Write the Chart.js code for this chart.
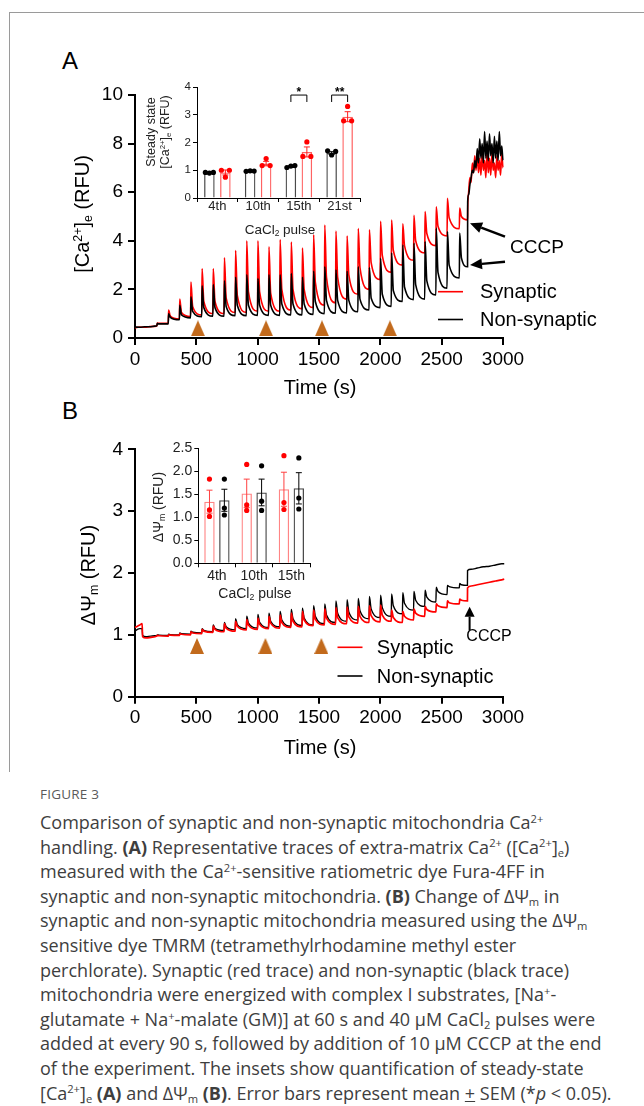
<!DOCTYPE html>
<html>
<head>
<meta charset="utf-8">
<script src="https://cdn.jsdelivr.net/npm/chart.js@4.4.1/dist/chart.umd.min.js"></script>
<style>
html, body { margin: 0; padding: 0; background: #fff; }
body { width: 644px; height: 1106px; position: relative; overflow: hidden;
       font-family: "Liberation Sans", Arial, Helvetica, sans-serif; color: #000; }
canvas { position: absolute; }
.frame-top { position: absolute; left: 9px; top: 12px; width: 640px; height: 0; border-top: 1px solid #9a9a9a; }
.frame-left { position: absolute; left: 9px; top: 12px; width: 0; height: 760px; border-left: 1px solid #9a9a9a; }
.lbl { position: absolute; white-space: nowrap; line-height: 1; transform: translate(-50%, -50%); }
.rot { transform: translate(-50%, -50%) rotate(-90deg); }
.panel { position: absolute; font-size: 24px; line-height: 1; }
.sup { font-size: 0.62em; position: relative; top: -0.55em; }
.sub { font-size: 0.62em; position: relative; top: 0.28em; }
#caption { position: absolute; left: 40px; top: 784px; width: 604px; color: #3e3e3e;
           font-family: "Open Sans", "Noto Sans", sans-serif; }
#caption .figno { font-size: 13.5px; color: #5a5a5a; letter-spacing: 0.2px; height: 26px; line-height: 20px; }
#caption .cl { font-size: 18px; line-height: 24.6px; height: 24.6px; white-space: nowrap; }
#caption b { font-weight: 700; }
</style>
</head>
<body>
<div class="frame-top"></div>
<div class="frame-left"></div>

<div class="panel" style="left:62px; top:49px;">A</div>
<div class="panel" style="left:62px; top:399px;">B</div>

<canvas id="mainA" width="644" height="400" style="left:0; top:0;"></canvas>
<canvas id="mainB" width="644" height="370" style="left:0; top:400px;"></canvas>
<canvas id="insetA" width="260" height="150" style="left:120px; top:70px;"></canvas>
<canvas id="insetB" width="220" height="160" style="left:120px; top:430px;"></canvas>

<!-- axis titles -->
<div class="lbl rot" style="left:82px; top:214px; font-size:20px;">[Ca<span class="sup">2+</span>]<span class="sub">e</span> (RFU)</div>
<div class="lbl" style="left:320px; top:387px; font-size:20px;">Time (s)</div>
<div class="lbl rot" style="left:88px; top:575px; font-size:20px;">ΔΨ<span class="sub">m</span> (RFU)</div>
<div class="lbl" style="left:320px; top:747px; font-size:20px;">Time (s)</div>

<div class="lbl rot" style="left:151px; top:132px; font-size:12.5px; color:#222;">Steady state</div>
<div class="lbl rot" style="left:165px; top:132px; font-size:12.5px; color:#222;">[Ca<span class="sup">2+</span>]<span class="sub">e</span> (RFU)</div>
<div class="lbl" style="left:280px; top:230px; font-size:13.5px; color:#222;">CaCl<span class="sub">2</span> pulse</div>
<div class="lbl rot" style="left:158px; top:507px; font-size:14px; color:#222;">ΔΨ<span class="sub">m</span> (RFU)</div>
<div class="lbl" style="left:255px; top:593px; font-size:14px; color:#222;">CaCl<span class="sub">2</span> pulse</div>

<div id="caption">
  <div class="figno">FIGURE 3</div>
  <div class="cl">Comparison of synaptic and non-synaptic mitochondria Ca<span class="sup">2+</span></div>
  <div class="cl">handling. <b>(A)</b> Representative traces of extra-matrix Ca<span class="sup">2+</span> ([Ca<span class="sup">2+</span>]<span class="sub">e</span>)</div>
  <div class="cl">measured with the Ca<span class="sup">2+</span>-sensitive ratiometric dye Fura-4FF in</div>
  <div class="cl">synaptic and non-synaptic mitochondria. <b>(B)</b> Change of ΔΨ<span class="sub">m</span> in</div>
  <div class="cl">synaptic and non-synaptic mitochondria measured using the ΔΨ<span class="sub">m</span></div>
  <div class="cl">sensitive dye TMRM (tetramethylrhodamine methyl ester</div>
  <div class="cl">perchlorate). Synaptic (red trace) and non-synaptic (black trace)</div>
  <div class="cl">mitochondria were energized with complex I substrates, [Na<span class="sup">+</span>-</div>
  <div class="cl">glutamate + Na<span class="sup">+</span>-malate (GM)] at 60 s and 40 μM CaCl<span class="sub">2</span> pulses were</div>
  <div class="cl">added at every 90 s, followed by addition of 10 μM CCCP at the end</div>
  <div class="cl">of the experiment. The insets show quantification of steady-state</div>
  <div class="cl">[Ca<span class="sup">2+</span>]<span class="sub">e</span> <b>(A)</b> and ΔΨ<span class="sub">m</span> <b>(B)</b>. Error bars represent mean <u>+</u> SEM (*<i>p</i> &lt; 0.05).</div>
</div>

<script>
const FONT = '"Liberation Sans", Arial, Helvetica, sans-serif';
const RED = '#ff0000';
const BLACK = '#000000';

// ---------- CaCl2 pulse times (s), shared by both traces ----------
const pulseTimes = [180, 272, 363, 454, 545, 636, 727, 818, 909, 1000, 1090, 1181, 1272, 1363,
                    1454, 1545, 1636, 1727, 1818, 1909, 2000, 2090, 2181, 2272, 2363, 2454, 2545, 2645];

// ---------- Panel A: extra-matrix Ca2+ (RFU) ----------
const preTimesA = [0, 40, 80, 120, 160, 178];
const synPreA   = [0.42, 0.45, 0.44, 0.47, 0.48, 0.5];
const nonPreA   = [0.45, 0.44, 0.46, 0.46, 0.49, 0.5];

const synPeakA     = [0.62, 1.15, 1.6, 2.3, 2.85, 2.85, 3.3, 3.6, 4.0, 4.0, 3.75, 4.05, 3.95, 3.7,
                      4.25, 4.65, 4.4, 4.2, 4.5, 4.45, 4.8, 4.85, 4.7, 5.05, 5.2, 5.4, 5.75, 5.35];
const synShoulderA = [0.6, 0.9, 1.05, 1.3, 1.5, 1.5, 1.65, 1.75, 1.9, 1.9, 1.85, 2.0, 2.0, 2.0,
                      2.3, 2.5, 2.5, 2.6, 2.9, 3.1, 3.4, 3.6, 3.8, 4.0, 4.3, 4.6, 4.95, 5.0];
const synTroughA   = [0.6, 0.78, 0.88, 0.95, 1.0, 1.0, 1.05, 1.05, 1.1, 1.1, 1.1, 1.15, 1.2, 1.25,
                      1.35, 1.45, 1.6, 1.8, 2.0, 2.4, 2.7, 3.0, 3.2, 3.5, 3.8, 4.2, 4.5, 4.86];

const nonPeakA     = [0.6, 1.0, 1.35, 1.7, 2.15, 2.2, 2.35, 2.5, 2.6, 2.45, 2.6, 2.6, 2.65, 2.5,
                      2.75, 2.93, 2.8, 2.75, 2.93, 2.9, 3.28, 3.5, 3.83, 3.9, 3.97, 4.52, 4.38, 4.32];
const nonShoulderA = [0.58, 0.85, 0.95, 1.1, 1.25, 1.25, 1.3, 1.35, 1.35, 1.35, 1.35, 1.4, 1.4, 1.4,
                      1.5, 1.55, 1.55, 1.55, 1.6, 1.65, 1.8, 1.95, 2.1, 2.2, 2.35, 2.7, 3.0, 3.3];
const nonTroughA   = [0.58, 0.75, 0.83, 0.88, 0.9, 0.9, 0.92, 0.92, 0.93, 0.93, 0.93, 0.95, 0.95, 0.97,
                      1.0, 1.02, 1.03, 1.08, 1.15, 1.25, 1.3, 1.5, 1.58, 1.6, 1.77, 2.05, 2.47, 2.93];

// after CCCP
const postTimesA = [2712, 2720, 2730, 2740, 2750, 2760, 2770, 2780, 2790, 2800, 2810, 2820, 2830,
                    2840, 2850, 2860, 2870, 2880, 2890, 2900, 2910, 2920, 2930, 2940, 2950, 2960,
                    2970, 2980, 2990, 3000, 3010, 3020, 3030];
const synPostA = [5.3, 6.0, 6.6, 6.4, 7.2, 6.8, 7.5, 6.9, 7.6, 6.8, 7.4, 6.7, 7.6, 6.9, 7.3, 6.6, 7.7,
                  6.8, 7.4, 6.7, 7.6, 6.9, 7.2, 6.6, 7.5, 6.9, 7.3, 6.7, 7.6, 7.0, 7.4, 6.8, 7.5];
const nonPostA = [5.6, 5.9, 6.3, 6.6, 6.9, 6.8, 7.3, 7.0, 7.8, 7.2, 8.2, 7.4, 8.0, 7.2, 8.5, 7.4, 8.1,
                  7.3, 8.4, 7.5, 8.0, 7.2, 8.3, 7.4, 8.1, 7.3, 8.5, 7.5, 7.9, 7.3, 8.2, 7.6, 7.9];

// sampling points of the inset (after 4th, 10th, 15th, 21st pulse)
const markerTimesA = [513, 1068, 1524, 2078];
const markerLevelA = [0.4, 0.4, 0.4, 0.4];

// ---------- Panel B: membrane potential (RFU) ----------
const preTimesB = [0, 20, 40, 58, 62, 90, 130, 178];
const synPreB   = [1.12, 1.14, 1.16, 1.18, 0.97, 0.95, 0.96, 0.98];
const nonPreB   = [1.06, 1.09, 1.1, 1.1, 0.99, 0.97, 0.98, 0.99];

const synPeakB     = [0.99, 1.0, 1.02, 1.05, 1.09, 1.14, 1.18, 1.22, 1.25, 1.27, 1.3, 1.32, 1.35, 1.38,
                      1.4, 1.42, 1.44, 1.45, 1.46, 1.47, 1.48, 1.4, 1.38, 1.42, 1.46, 1.5, 1.55, 1.58];
const synShoulderB = [0.985, 0.995, 1.01, 1.03, 1.06, 1.09, 1.11, 1.14, 1.16, 1.17, 1.19, 1.2, 1.22, 1.24,
                      1.25, 1.27, 1.28, 1.29, 1.3, 1.31, 1.32, 1.28, 1.3, 1.35, 1.41, 1.47, 1.52, 1.56];
const synTroughB   = [0.98, 0.99, 1.0, 1.02, 1.04, 1.05, 1.06, 1.08, 1.09, 1.1, 1.11, 1.12, 1.13, 1.15,
                      1.16, 1.17, 1.18, 1.19, 1.2, 1.21, 1.22, 1.2, 1.24, 1.3, 1.37, 1.44, 1.5, 1.55];
const nonPeakB     = [1.0, 1.01, 1.03, 1.06, 1.1, 1.16, 1.2, 1.26, 1.3, 1.33, 1.35, 1.38, 1.41, 1.43,
                      1.47, 1.5, 1.55, 1.57, 1.59, 1.62, 1.64, 1.66, 1.68, 1.7, 1.72, 1.77, 1.8, 1.83];
const nonShoulderB = [0.995, 1.004, 1.018, 1.042, 1.07, 1.105, 1.13, 1.165, 1.19, 1.2, 1.22, 1.24, 1.26, 1.27,
                      1.3, 1.32, 1.35, 1.37, 1.39, 1.42, 1.44, 1.47, 1.51, 1.56, 1.61, 1.7, 1.78, 1.81];
const nonTroughB   = [0.99, 1.0, 1.01, 1.03, 1.05, 1.07, 1.08, 1.1, 1.11, 1.12, 1.13, 1.14, 1.15, 1.16,
                      1.18, 1.2, 1.22, 1.24, 1.26, 1.28, 1.3, 1.34, 1.4, 1.46, 1.53, 1.65, 1.76, 1.8];

const postTimesB = [2711, 2740, 2790, 2840, 2890, 2940, 2990, 3010];
const synPostB   = [1.76, 1.79, 1.81, 1.83, 1.85, 1.87, 1.89, 1.9];
const nonPostB   = [2.04, 2.06, 2.08, 2.1, 2.11, 2.13, 2.15, 2.15];

const markerTimesB = [505, 1063, 1519];
const markerLevelB = [0.82, 0.82, 0.82];

// ---------- Inset A: steady state [Ca2+]e ----------
const ssCats    = ['4th', '10th', '15th', '21st'];
const ssNonMean = [0.91, 0.97, 1.13, 1.62];
const ssNonSem  = [0.02, 0.02, 0.03, 0.05];
const ssNonDots = [[0.92, 0.9, 0.92], [0.96, 0.98, 0.97], [1.1, 1.15, 1.17], [1.7, 1.55, 1.68]];
const ssSynMean = [0.92, 1.24, 1.66, 2.93];
const ssSynSem  = [0.09, 0.08, 0.18, 0.18];
const ssSynDots = [[1.0, 0.75, 1.0], [1.17, 1.42, 1.17], [1.5, 2.02, 1.5], [2.78, 3.3, 2.78]];
const ssSigLabels = ['', '', '*', '**'];

// ---------- Inset B: delta psi m ----------
const psiCats    = ['4th', '10th', '15th'];
const psiSynMean = [1.34, 1.52, 1.61];
const psiSynSem  = [0.25, 0.31, 0.37];
const psiSynDots = [[1.83, 1.16, 1.02], [2.15, 1.27, 1.15], [2.34, 1.32, 1.17]];
const psiNonMean = [1.37, 1.54, 1.63];
const psiNonSem  = [0.24, 0.29, 0.34];
const psiNonDots = [[1.83, 1.2, 1.05], [2.12, 1.35, 1.15], [2.29, 1.42, 1.18]];

// ---------- helpers ----------
// joins the typed readings into one trace: baseline, then each pulse
// (jump to peak, shoulder of the fast decay, trough before the next addition), then CCCP
function buildTrace(preT, preV, peaks, shoulders, troughs, postT, postV) {
    const pts = preT.map((t, i) => ({ x: t, y: preV[i] }));
    pulseTimes.forEach((t, k) => {
        pts.push({ x: t + 2, y: peaks[k] });
        pts.push({ x: t + 16, y: shoulders[k] });
        const next = k + 1 < pulseTimes.length ? pulseTimes[k + 1] : postT[0];
        pts.push({ x: next - 1, y: troughs[k] });
    });
    postT.forEach((t, i) => pts.push({ x: t, y: postV[i] }));
    return pts;
}

function triangleImage() {
    const c = document.createElement('canvas');
    c.width = 14; c.height = 16;
    const g = c.getContext('2d');
    g.fillStyle = '#c26a1c';
    g.beginPath();
    g.moveTo(7, 0); g.lineTo(14, 16); g.lineTo(0, 16);
    g.closePath();
    g.fill();
    return c;
}

function drawArrow(ctx, x1, y1, x2, y2, head, half, width) {
    const ang = Math.atan2(y2 - y1, x2 - x1);
    const bx = x2 - Math.cos(ang) * head, by = y2 - Math.sin(ang) * head;
    ctx.strokeStyle = '#000';
    ctx.lineWidth = width;
    ctx.beginPath();
    ctx.moveTo(x1, y1);
    ctx.lineTo(bx, by);
    ctx.stroke();
    ctx.fillStyle = '#000';
    ctx.beginPath();
    ctx.moveTo(x2, y2);
    ctx.lineTo(bx + Math.sin(ang) * half, by - Math.cos(ang) * half);
    ctx.lineTo(bx - Math.sin(ang) * half, by + Math.cos(ang) * half);
    ctx.closePath();
    ctx.fill();
}

// arrows, CCCP labels and the in-plot legend
const overlay = {
    id: 'overlay',
    afterDraw(chart, args, o) {
        const ctx = chart.ctx;
        ctx.save();
        (o.arrows || []).forEach(a => drawArrow(ctx, a.x1, a.y1, a.x2, a.y2, a.head, a.half, a.width));
        ctx.textBaseline = 'middle';
        (o.texts || []).forEach(t => {
            ctx.font = t.size + 'px ' + FONT;
            ctx.fillStyle = '#000';
            ctx.textAlign = t.align || 'left';
            ctx.fillText(t.text, t.x, t.y);
        });
        (o.legend || []).forEach(l => {
            ctx.strokeStyle = l.color;
            ctx.lineWidth = 1.6;
            ctx.beginPath();
            ctx.moveTo(l.x1, l.y);
            ctx.lineTo(l.x2, l.y);
            ctx.stroke();
            ctx.font = '20px ' + FONT;
            ctx.fillStyle = '#000';
            ctx.textAlign = 'left';
            ctx.fillText(l.text, l.tx, l.y + 1);
        });
        ctx.restore();
    }
};

// error bars, individual points and significance brackets of the insets
const insetMarks = {
    id: 'insetMarks',
    afterDatasetsDraw(chart, args, o) {
        const ctx = chart.ctx, ys = chart.scales.y;
        ctx.save();
        o.series.forEach(s => {
            const meta = chart.getDatasetMeta(s.dataset);
            const means = chart.data.datasets[s.dataset].data;
            meta.data.forEach((bar, i) => {
                const x = bar.x;
                const top = ys.getPixelForValue(means[i] + s.sem[i]);
                const bot = ys.getPixelForValue(means[i] - s.sem[i]);
                ctx.strokeStyle = s.errColor;
                ctx.lineWidth = 1;
                ctx.beginPath();
                ctx.moveTo(x, top); ctx.lineTo(x, bot);
                ctx.moveTo(x - o.cap, top); ctx.lineTo(x + o.cap, top);
                ctx.moveTo(x - o.cap, bot); ctx.lineTo(x + o.cap, bot);
                ctx.stroke();
                ctx.fillStyle = s.dotColor;
                s.dots[i].forEach((v, j) => {
                    ctx.beginPath();
                    ctx.arc(x + o.dotOffsets[j], ys.getPixelForValue(v), o.dotRadius, 0, Math.PI * 2);
                    ctx.fill();
                });
            });
        });
        if (o.sig) {
            const m0 = chart.getDatasetMeta(0), m1 = chart.getDatasetMeta(1);
            o.sig.labels.forEach((lab, i) => {
                if (!lab) return;
                const xa = m0.data[i].x, xb = m1.data[i].x;
                const yl = ys.getPixelForValue(o.sig.level);
                const yd = ys.getPixelForValue(o.sig.level - o.sig.drop);
                ctx.strokeStyle = '#000';
                ctx.lineWidth = 1;
                ctx.beginPath();
                ctx.moveTo(xa, yd); ctx.lineTo(xa, yl); ctx.lineTo(xb, yl); ctx.lineTo(xb, yd);
                ctx.stroke();
                ctx.font = 'bold 12px ' + FONT;
                ctx.fillStyle = '#000';
                ctx.textAlign = 'center';
                ctx.textBaseline = 'alphabetic';
                ctx.fillText(lab, (xa + xb) / 2, yl + 1);
            });
        }
        ctx.restore();
    }
};

// fixes the axis boxes so the plot area lands where the figure has it
function fixedWidth(w) { return s => { s.width = w; }; }
function fixedHeight(h) { return s => { s.height = h; }; }

function mainOptions(yMax, yStep, pad, overlayCfg) {
    return {
        responsive: false,
        animation: false,
        devicePixelRatio: 1,
        layout: { padding: pad },
        plugins: { legend: { display: false }, tooltip: { enabled: false }, overlay: overlayCfg },
        scales: {
            x: {
                type: 'linear', min: 0, max: 3000,
                afterFit: fixedHeight(50),
                border: { display: true, color: '#000', width: 2 },
                grid: { display: true, drawOnChartArea: false, drawTicks: true, tickLength: 7, color: '#000', lineWidth: 2 },
                ticks: { stepSize: 500, color: '#000', padding: 3, font: { family: FONT, size: 19 }, callback: v => String(v) }
            },
            y: {
                type: 'linear', min: 0, max: yMax,
                afterFit: fixedWidth(60),
                border: { display: true, color: '#000', width: 2 },
                grid: { display: true, drawOnChartArea: false, drawTicks: true, tickLength: 7, color: '#000', lineWidth: 2 },
                ticks: { stepSize: yStep, color: '#000', padding: 5, font: { family: FONT, size: 19 }, callback: v => String(v) }
            }
        }
    };
}

function traceSet(label, pts, color, width) {
    return { label, data: pts, showLine: true, borderColor: color, borderWidth: width,
             pointRadius: 0, fill: false, clip: false, cubicInterpolationMode: 'monotone' };
}

const tri = triangleImage();

// ---------- main A ----------
new Chart(document.getElementById('mainA'), {
    type: 'scatter',
    data: {
        datasets: [
            { label: 'markers', data: markerTimesA.map((t, i) => ({ x: t, y: markerLevelA[i] })),
              pointStyle: tri, pointRadius: 8, showLine: false },
            traceSet('Non-synaptic', buildTrace(preTimesA, nonPreA, nonPeakA, nonShoulderA, nonTroughA, postTimesA, nonPostA), BLACK, 1.6),
            traceSet('Synaptic', buildTrace(preTimesA, synPreA, synPeakA, synShoulderA, synTroughA, postTimesA, synPostA), RED, 1.6)
        ]
    },
    options: mainOptions(10, 2, { left: 75, right: 141, top: 95, bottom: 12 }, {
        arrows: [
            { x1: 505, y1: 236.7, x2: 470, y2: 223.3, head: 12, half: 5.5, width: 2.5 },
            { x1: 505, y1: 261.7, x2: 470, y2: 265, head: 12, half: 5.5, width: 2.5 }
        ],
        texts: [{ text: 'CCCP', x: 510, y: 248, size: 19 }],
        legend: [
            { text: 'Synaptic', color: RED, x1: 438, x2: 463, y: 291.7, tx: 480 },
            { text: 'Non-synaptic', color: BLACK, x1: 438, x2: 463, y: 319.5, tx: 480 }
        ]
    }),
    plugins: [overlay]
});

// ---------- main B ----------
new Chart(document.getElementById('mainB'), {
    type: 'scatter',
    data: {
        datasets: [
            { label: 'markers', data: markerTimesB.map((t, i) => ({ x: t, y: markerLevelB[i] })),
              pointStyle: tri, pointRadius: 8, showLine: false },
            traceSet('Synaptic', buildTrace(preTimesB, synPreB, synPeakB, synShoulderB, synTroughB, postTimesB, synPostB), RED, 1.7),
            traceSet('Non-synaptic', buildTrace(preTimesB, nonPreB, nonPeakB, nonShoulderB, nonTroughB, postTimesB, nonPostB), BLACK, 1.4)
        ]
    },
    options: mainOptions(4, 1, { left: 75, right: 141, top: 49.3, bottom: 23.3 }, {
        arrows: [{ x1: 469.6, y1: 230, x2: 469.6, y2: 206.7, head: 10, half: 5, width: 2 }],
        texts: [{ text: 'CCCP', x: 489, y: 237, size: 16, align: 'center' }],
        legend: [
            { text: 'Synaptic', color: RED, x1: 337.5, x2: 362.5, y: 247.3, tx: 376.8 },
            { text: 'Non-synaptic', color: BLACK, x1: 337.5, x2: 362.5, y: 276, tx: 376.8 }
        ]
    }),
    plugins: [overlay]
});

// ---------- insets ----------
function insetOptions(yMax, yStep, pad, xSize, ySize, xPad, yFmt, marks) {
    return {
        responsive: false,
        animation: false,
        devicePixelRatio: 1,
        layout: { padding: pad },
        plugins: { legend: { display: false }, tooltip: { enabled: false }, insetMarks: marks },
        scales: {
            x: {
                type: 'category',
                afterFit: fixedHeight(20),
                border: { display: true, color: '#000', width: 1 },
                grid: { display: true, offset: true, drawOnChartArea: false, tickLength: 4, color: '#000', lineWidth: 1 },
                ticks: { color: '#222', padding: xPad, font: { family: FONT, size: xSize } }
            },
            y: {
                type: 'linear', min: 0, max: yMax,
                afterFit: fixedWidth(30),
                border: { display: true, color: '#000', width: 1 },
                grid: { display: true, drawOnChartArea: false, tickLength: 4, color: '#000', lineWidth: 1 },
                ticks: { stepSize: yStep, color: '#222', padding: 2, font: { family: FONT, size: ySize }, callback: yFmt }
            }
        }
    };
}

function barSet(label, means, color, barPct, catPct) {
    return { label, data: means, backgroundColor: 'rgba(255,255,255,0)', borderColor: color,
             borderWidth: 1.3, barPercentage: barPct, categoryPercentage: catPct };
}

new Chart(document.getElementById('insetA'), {
    type: 'bar',
    data: {
        labels: ssCats,
        datasets: [
            barSet('Non-synaptic', ssNonMean, '#4a4a4a', 0.66, 0.785),
            barSet('Synaptic', ssSynMean, '#ff6262', 0.66, 0.785)
        ]
    },
    options: insetOptions(4, 1, { left: 47, right: 20, top: 17, bottom: 2 }, 13, 11.5, -3, v => String(v), {
        cap: 3, dotRadius: 2.6, dotOffsets: [-4, 0, 4],
        series: [
            { dataset: 0, sem: ssNonSem, dots: ssNonDots, errColor: '#000', dotColor: '#000' },
            { dataset: 1, sem: ssSynSem, dots: ssSynDots, errColor: '#ff2020', dotColor: '#ff0000' }
        ],
        sig: { labels: ssSigLabels, level: 3.71, drop: 0.25 }
    }),
    plugins: [insetMarks]
});

new Chart(document.getElementById('insetB'), {
    type: 'bar',
    data: {
        labels: psiCats,
        datasets: [
            barSet('Synaptic', psiSynMean, '#ff8585', 0.7, 0.8),
            barSet('Non-synaptic', psiNonMean, '#4a4a4a', 0.7, 0.8)
        ]
    },
    options: insetOptions(2.5, 0.5, { left: 48.3, right: 30, top: 18.3, bottom: 6.7 }, 14, 14, 0, v => v.toFixed(1), {
        cap: 3, dotRadius: 2.6, dotOffsets: [0, 0, 0],
        series: [
            { dataset: 0, sem: psiSynSem, dots: psiSynDots, errColor: '#ff4040', dotColor: '#ff0000' },
            { dataset: 1, sem: psiNonSem, dots: psiNonDots, errColor: '#000', dotColor: '#000' }
        ]
    }),
    plugins: [insetMarks]
});
</script>
</body>
</html>
